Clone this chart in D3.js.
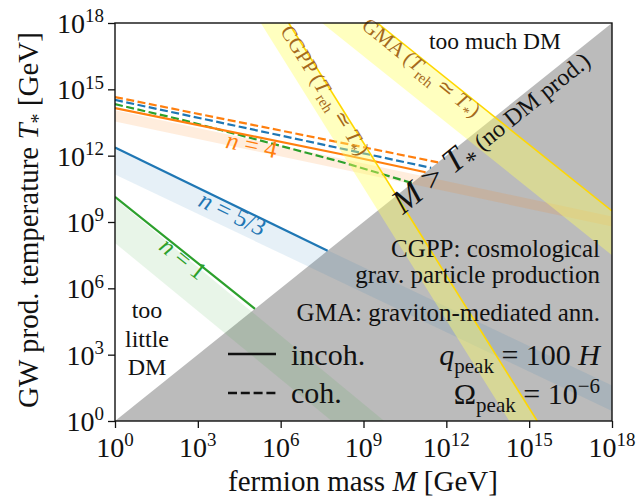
<!DOCTYPE html>
<html>
<head>
<meta charset="utf-8">
<script src="https://cdn.jsdelivr.net/npm/d3@7"></script>
<style>
  body { margin: 0; background: #fff; }
  svg { display: block; }
  text { font-family: "Liberation Serif", "DejaVu Serif", serif; }
</style>
</head>
<body>
<svg id="chart" width="639" height="498"></svg>
<script>
// all values are log10 exponents: [log10 M, log10 T*]
const xTickExp = [0, 3, 6, 9, 12, 15, 18];
const yTickExp = [0, 3, 6, 9, 12, 15, 18];

// incoherent (solid) and coherent (dashed) curves
const incohN4 = [[0, 14.15], [8.3, 12.04], [11.25, 11.25]];
const incohN53 = [[0, 12.37], [7.7, 7.7]];
const incohN1 = [[0, 10.14], [5.07, 5.07]];
const cohN4 = [[0, 14.65], [11.7, 11.7]];
const cohN53 = [[0, 14.52], [11.45, 11.45]];
const cohN1 = [[0, 14.33], [2.5, 13.6], [8.33, 11.67], [10.76, 10.76]];

// shaded bands: upper and lower edges
const bandN4Upper = [[0, 14.05], [18, 9.25]];
const bandN4Lower = [[0, 13.55], [18, 8.8]];
const bandN53Upper = [[0, 12.3], [18, 1.6]];
const bandN53Lower = [[0, 11.15], [18, 0.45]];
const bandN1Upper = [[0, 10.05], [9.75, 0]];
const bandN1Lower = [[0, 8.05], [7.85, 0]];

// yellow bands (T_reh ~ T_*): gold edge and inner edge
const cgppEdge = [[6.29, 18], [15.29, 0]];
const cgppInner = [[5.28, 18], [14.28, 0]];
const gmaEdge = [[9.5, 18], [18, 9.5]];
const gmaInner = [[7.5, 18], [18, 7.5]];

// M > T* region
const forbidden = [[0, 0], [18, 18], [18, 0]];

const svg = d3.select('#chart');
const width = 639, height = 498;
const margin = { top: 23, right: 27, bottom: 77, left: 115 };

const x = d3.scaleLog().domain([1, 1e18]).range([margin.left, width - margin.right]);
const y = d3.scaleLog().domain([1, 1e18]).range([height - margin.bottom, margin.top]);

const line = d3.line().x(d => x(10 ** d[0])).y(d => y(10 ** d[1]));
const poly = (a, b) => line(a.concat(b.slice().reverse())) + 'Z';

const orange = '#ff7f0e', blue = '#1f77b4', green = '#2ca02c';
const brown = '#a5691c';
const ink = '#111';

svg.append('clipPath').attr('id', 'clip')
    .append('rect')
    .attr('x', x(1)).attr('y', y(1e18))
    .attr('width', x(1e18) - x(1)).attr('height', y(1) - y(1e18));

const plot = svg.append('g').attr('clip-path', 'url(#clip)');

// gray region
plot.append('path').attr('d', line(forbidden) + 'Z').attr('fill', '#bbbbbb');

// n bands
plot.append('path').attr('d', poly(bandN4Upper, bandN4Lower)).attr('fill', orange).attr('fill-opacity', 0.14);
plot.append('path').attr('d', poly(bandN53Upper, bandN53Lower)).attr('fill', blue).attr('fill-opacity', 0.11);
plot.append('path').attr('d', poly(bandN1Upper, bandN1Lower)).attr('fill', green).attr('fill-opacity', 0.11);

// curves
const curves = [
    [cohN4, orange, true], [cohN53, blue, true], [cohN1, green, true],
    [incohN4, orange, false], [incohN53, blue, false], [incohN1, green, false]
];
curves.forEach(([data, color, dashed]) => {
    plot.append('path')
        .datum(data)
        .attr('d', line)
        .attr('fill', 'none')
        .attr('stroke', color)
        .attr('stroke-width', 2.2)
        .attr('stroke-dasharray', dashed ? '8,3.5' : null);
});

// yellow bands
[[cgppEdge, cgppInner], [gmaEdge, gmaInner]].forEach(([edge, inner]) => {
    plot.append('path').attr('d', poly(edge, inner)).attr('fill', '#ffff66').attr('fill-opacity', 0.42);
    plot.append('path').datum(edge).attr('d', line)
        .attr('fill', 'none').attr('stroke', '#ffd700').attr('stroke-width', 1.6);
});

// rich text helper: parts = [text, {t, it, sub, sup, size}]
function rich(sel, parts, base) {
    let cur = 0;
    parts.forEach(p => {
        const o = typeof p === 'string' ? { t: p } : p;
        const shift = o.sub ? base * 0.25 : o.sup ? -base * 0.38 : 0;
        const ts = sel.append('tspan').text(o.t).attr('dy', shift - cur);
        cur = shift;
        if (o.it) ts.attr('font-style', 'italic');
        if (o.sub || o.sup) ts.attr('font-size', o.size || base * 0.7);
        else if (o.size) ts.attr('font-size', o.size);
    });
    return sel;
}

function label(px, py, size, opts = {}) {
    const t = svg.append('text')
        .attr('font-size', size)
        .attr('text-anchor', opts.anchor || 'start')
        .style('fill', opts.color || ink);
    if (opts.rotate !== undefined) {
        t.attr('transform', `translate(${px},${py}) rotate(${opts.rotate})`);
        if (opts.center) t.attr('dy', '0.33em');
    } else {
        t.attr('x', px).attr('y', py);
    }
    return t;
}

// n labels
rich(label(250, 153, 25, { anchor: 'middle', rotate: 12, center: true, color: orange }),
    [{ t: 'n', it: true }, ' = 4'], 25);
rich(label(229, 221, 25, { anchor: 'middle', rotate: 26, center: true, color: blue }),
    [{ t: 'n', it: true }, ' = 5/3'], 25);
rich(label(178, 265, 25, { anchor: 'middle', rotate: 38.7, center: true, color: green }),
    [{ t: 'n', it: true }, ' = 1'], 25);

// yellow band labels
rich(label(319, 94, 21, { anchor: 'middle', rotate: 58, center: true, color: brown }),
    ['CGPP (', { t: 'T', it: true }, { t: 'reh', sub: true }, ' \u2243 ', { t: 'T', it: true }, { t: '*', sub: true }, ')'], 21);
rich(label(417, 73, 21, { anchor: 'middle', rotate: 38.7, center: true, color: brown }),
    ['GMA (', { t: 'T', it: true }, { t: 'reh', sub: true }, ' \u2243 ', { t: 'T', it: true }, { t: '*', sub: true }, ')'], 21);

// M > T* label
rich(label(403, 215, 34, { rotate: -38.7 }),
    [{ t: 'M', it: true }, ' > ', { t: 'T', it: true }, { t: '*', sub: true, size: 24 }, { t: ' (no DM prod.)', size: 24 }], 34);

// region labels
label(495, 49, 23.5, { anchor: 'middle' }).text('too much DM');
label(147, 318, 24, { anchor: 'middle' }).text('too');
label(147, 347, 24, { anchor: 'middle' }).text('little');
label(147, 375, 24, { anchor: 'middle' }).text('DM');

label(600, 257, 25, { anchor: 'end' }).text('CGPP: cosmological');
label(600, 283, 25, { anchor: 'end' }).text('grav. particle production');
label(600, 321, 25, { anchor: 'end' }).text('GMA: graviton-mediated ann.');

rich(label(600, 365, 30, { anchor: 'end' }),
    [{ t: 'q', it: true }, { t: 'peak', sub: true }, ' = 100 ', { t: 'H', it: true }], 30);
rich(label(600, 404, 30, { anchor: 'end' }),
    ['\u03a9', { t: 'peak', sub: true }, ' = 10', { t: '\u22126', sup: true }], 30);

// legend
svg.append('line').attr('x1', 228).attr('x2', 276).attr('y1', 354).attr('y2', 354)
    .attr('stroke', ink).attr('stroke-width', 2.6);
svg.append('line').attr('x1', 228).attr('x2', 276).attr('y1', 393).attr('y2', 393)
    .attr('stroke', ink).attr('stroke-width', 2.6).attr('stroke-dasharray', '9,3.8');
label(291, 365, 30).text('incoh.');
label(291, 403, 30).text('coh.');

// frame
svg.append('rect')
    .attr('x', x(1)).attr('y', y(1e18))
    .attr('width', x(1e18) - x(1)).attr('height', y(1) - y(1e18))
    .attr('fill', 'none').attr('stroke', ink).attr('stroke-width', 1.4);

// axes
const xAxis = svg.append('g')
    .attr('transform', `translate(0,${y(1)})`)
    .call(d3.axisBottom(x).tickValues(xTickExp.map(e => 10 ** e)).tickSize(7).tickFormat(''));
const yAxis = svg.append('g')
    .attr('transform', `translate(${x(1)},0)`)
    .call(d3.axisLeft(y).tickValues(yTickExp.map(e => 10 ** e)).tickSize(7).tickFormat(''));
[xAxis, yAxis].forEach(g => {
    g.select('.domain').remove();
    g.selectAll('.tick line').attr('stroke', ink).attr('stroke-width', 1.3);
});

// tick labels 10^n
xTickExp.forEach(e => {
    rich(label(x(10 ** e), 457, 28, { anchor: 'middle' }), ['10', { t: String(e), sup: true, size: 19 }], 28);
});
yTickExp.forEach(e => {
    rich(label(104, y(10 ** e) + 10, 28, { anchor: 'end' }), ['10', { t: String(e), sup: true, size: 19 }], 28);
});

// axis titles
rich(label(363, 491, 29, { anchor: 'middle' }),
    ['fermion mass ', { t: 'M', it: true }, ' [GeV]'], 29);
rich(label(38, 220, 29, { anchor: 'middle', rotate: -90 }),
    ['GW prod. temperature ', { t: 'T', it: true }, { t: '*', sub: true, size: 20 }, ' [GeV]'], 29);
</script>
</body>
</html>
